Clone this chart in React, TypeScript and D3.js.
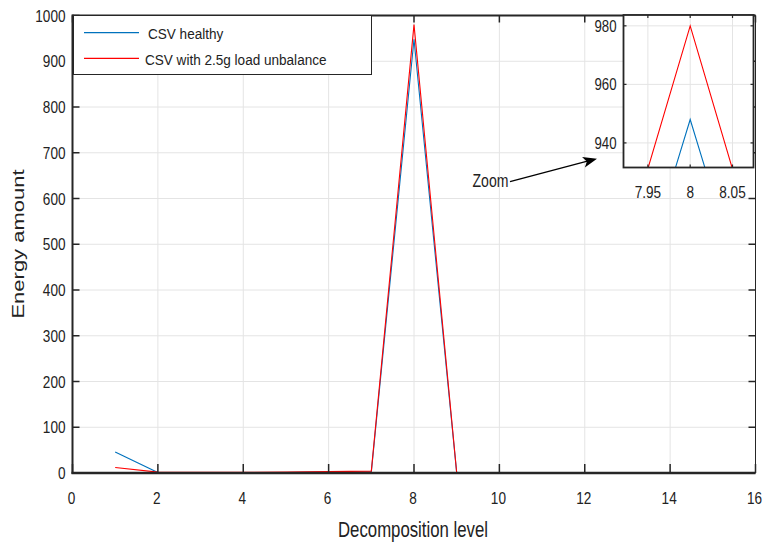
import React from "react";
import * as d3 from "d3";

const levels = [1, 2, 3, 4, 5, 6, 7, 8, 9, 10, 11, 12, 13, 14, 15, 16];
const healthy = [46, 1, 0.5, 0.5, 1, 2, 2, 948, 0.5, 0.3, 0.2, 0.2, 0.1, 0.1, 0.1, 0.1];
const unbalance = [12, 2, 1.5, 1.5, 2, 3, 4, 980, 1, 0.5, 0.3, 0.2, 0.2, 0.1, 0.1, 0.1];
const xTicks = [0, 2, 4, 6, 8, 10, 12, 14, 16];
const yTicks = [0, 100, 200, 300, 400, 500, 600, 700, 800, 900, 1000];
const insetXTicks = [7.95, 8, 8.05];
const insetXLabels = ["7.95", "8", "8.05"];
const insetYTicks = [940, 960, 980];
const seriesNames = ["CSV healthy", "CSV with 2.5g load unbalance"];
const seriesColors = ["#0072BD", "#FF0000"];

const FONT = "'Liberation Sans', Arial, Helvetica, sans-serif";
const AX = "#262626";
const GRID = "#e4e4e4";

function T({ x, y, size, sx = 0.8, anchor = "start", children, rotate = 0 }: any) {
  const tr = rotate
    ? `translate(${x},${y}) rotate(${rotate}) scale(1,${sx})`
    : `translate(${x},${y}) scale(${sx},1)`;
  return (
    <text transform={tr} fontSize={size} textAnchor={anchor} fontFamily={FONT} fill="#222">
      {children}
    </text>
  );
}

export default function App() {
  const x = d3.scaleLinear().domain([0, 16]).range([72.5, 755.5]);
  const y = d3.scaleLinear().domain([0, 1000]).range([473, 15.5]);
  const xi = d3.scaleLinear().domain([7.9212, 8.0748]).range([623.5, 753.5]);
  const yi = d3.scaleLinear().domain([931.6, 983.7]).range([167.5, 15]);

  const series = [healthy, unbalance];
  const mainLine = d3
    .line<number>()
    .x((_, i) => x(levels[i]))
    .y((d) => y(d));
  const insetLine = d3
    .line<number>()
    .x((_, i) => xi(levels[i]))
    .y((d) => yi(d));

  const [x0, x1] = x.range();
  const [y0, y1] = y.range();
  const [ix0, ix1] = xi.range();
  const [iy0, iy1] = yi.range();

  // arrow
  const ax0 = 510, ay0 = 181.7, axT = 597, ayT = 158.7;
  const len = Math.hypot(axT - ax0, ayT - ay0);
  const ux = (axT - ax0) / len, uy = (ayT - ay0) / len;
  const hl = 14, hw = 5.5;
  const bx = axT - ux * hl, by = ayT - uy * hl;
  const head = `${axT},${ayT} ${bx - uy * hw},${by + ux * hw} ${axT - ux * hl * 0.75},${ayT - uy * hl * 0.75} ${bx + uy * hw},${by - ux * hw}`;

  return (
    <svg width={765} height={542} style={{ position: "fixed", left: 0, top: 0, background: "#fff" }}>
      <defs>
        <clipPath id="mainclip">
          <rect x={x0} y={y1} width={x1 - x0} height={y0 - y1} />
        </clipPath>
        <clipPath id="insetclip">
          <rect x={ix0} y={iy1} width={ix1 - ix0} height={iy0 - iy1} />
        </clipPath>
      </defs>
      <rect x={0} y={0} width={765} height={542} fill="#fff" />
      {/* grid */}
      {xTicks.map((t) => (
        <line key={"gx" + t} x1={x(t)} x2={x(t)} y1={y0} y2={y1} stroke={GRID} strokeWidth={1} />
      ))}
      {yTicks.map((t) => (
        <line key={"gy" + t} x1={x0} x2={x1} y1={y(t)} y2={y(t)} stroke={GRID} strokeWidth={1} />
      ))}
      {/* series */}
      <g clipPath="url(#mainclip)">
        {series.map((s, i) => (
          <path key={i} d={mainLine(s) || ""} fill="none" stroke={seriesColors[i]} strokeWidth={1.1} />
        ))}
      </g>
      {/* box */}
      <line x1={x0} x2={x1} y1={y1} y2={y1} stroke={AX} strokeWidth={2} />
      <line x1={x1} x2={x1} y1={y1} y2={y0} stroke={AX} strokeWidth={1} />
      <line x1={x0} x2={x0} y1={y1 - 1} y2={y0 + 1} stroke={AX} strokeWidth={2} />
      <line x1={x0 - 1} x2={x1} y1={y0} y2={y0} stroke={AX} strokeWidth={2.5} />
      {xTicks.map((t) => (
        <g key={"tx" + t}>
          <line x1={x(t)} x2={x(t)} y1={y0} y2={y0 - 9} stroke={AX} strokeWidth={1.5} />
          <line x1={x(t)} x2={x(t)} y1={y1} y2={y1 + 7} stroke={AX} strokeWidth={1.5} />
          <T x={x(t) - 1} y={503.5} size={17} sx={0.8} anchor="middle">{String(t)}</T>
        </g>
      ))}
      {yTicks.map((t) => (
        <g key={"ty" + t}>
          <line x1={x0} x2={x0 + 7} y1={y(t)} y2={y(t)} stroke={AX} strokeWidth={1.5} />
          <line x1={x1} x2={x1 - 7} y1={y(t)} y2={y(t)} stroke={AX} strokeWidth={1.5} />
          <T x={65.5} y={y(t) + 6.2} size={17} sx={0.8} anchor="end">{String(t)}</T>
        </g>
      ))}
      {/* axis labels */}
      <T x={413} y={536.5} size={21.5} sx={0.78} anchor="middle">Decomposition level</T>
      <T x={24} y={244} size={22} sx={0.72} anchor="middle" rotate={-90}>Energy amount</T>

      {/* legend */}
      <rect x={73.5} y={15.5} width={298} height={59} fill="#fff" stroke={AX} strokeWidth={1} />
      {seriesNames.map((n, i) => {
        const ly = i === 0 ? 32.7 : 58.3;
        return (
          <g key={"lg" + i}>
            <line x1={84} x2={139} y1={ly} y2={ly} stroke={seriesColors[i]} strokeWidth={1.2} />
            <T x={i === 0 ? 148 : 145} y={i === 0 ? 39.3 : 65} size={15.5} sx={0.875}>{n}</T>
          </g>
        );
      })}

      {/* inset */}
      <rect x={ix0} y={iy1} width={ix1 - ix0} height={iy0 - iy1} fill="#fff" />
      {insetXTicks.map((t) => (
        <line key={"igx" + t} x1={xi(t)} x2={xi(t)} y1={iy0} y2={iy1} stroke={GRID} strokeWidth={1} />
      ))}
      {insetYTicks.map((t) => (
        <line key={"igy" + t} x1={ix0} x2={ix1} y1={yi(t)} y2={yi(t)} stroke={GRID} strokeWidth={1} />
      ))}
      <g clipPath="url(#insetclip)">
        {series.map((s, i) => (
          <path key={"i" + i} d={insetLine(s) || ""} fill="none" stroke={seriesColors[i]} strokeWidth={1.1} />
        ))}
      </g>
      <rect x={ix0} y={iy1} width={ix1 - ix0} height={iy0 - iy1} fill="none" stroke={AX} strokeWidth={1.8} />
      {insetXTicks.map((t, k) => (
        <g key={"itx" + t}>
          <line x1={xi(t)} x2={xi(t)} y1={iy0} y2={iy0 - 3} stroke={AX} strokeWidth={1.2} />
          <line x1={xi(t)} x2={xi(t)} y1={iy1} y2={iy1 + 3} stroke={AX} strokeWidth={1.2} />
          <T x={xi(t)} y={198} size={17} sx={0.8} anchor="middle">{insetXLabels[k]}</T>
        </g>
      ))}
      {insetYTicks.map((t) => (
        <g key={"ity" + t}>
          <line x1={ix0} x2={ix0 + 3} y1={yi(t)} y2={yi(t)} stroke={AX} strokeWidth={1.2} />
          <line x1={ix1} x2={ix1 - 3} y1={yi(t)} y2={yi(t)} stroke={AX} strokeWidth={1.2} />
          <T x={616.5} y={yi(t) + 5.8} size={16.5} sx={0.8} anchor="end">{String(t)}</T>
        </g>
      ))}

      {/* annotation */}
      <line x1={ax0} y1={ay0} x2={axT - ux * 8} y2={ayT - uy * 8} stroke="#000" strokeWidth={1.3} />
      <polygon points={head} fill="#000" />
      <T x={472.5} y={187} size={18.5} sx={0.76}>Zoom</T>
    </svg>
  );
}
